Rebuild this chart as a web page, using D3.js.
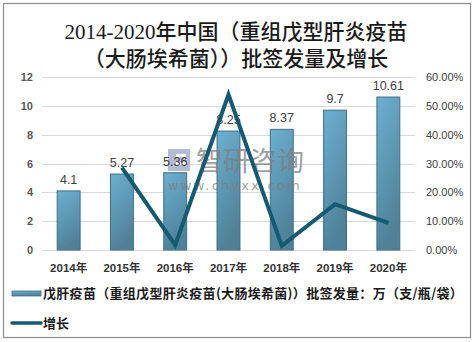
<!DOCTYPE html>
<html><head><meta charset="utf-8">
<script src="https://cdn.jsdelivr.net/npm/d3@7"></script>
<style>
html,body{margin:0;padding:0;background:#fff;}
svg{display:block;}
</style>
</head><body>
<svg id="chart" width="474" height="342"></svg>
<script>
const years = ["2014年","2015年","2016年","2017年","2018年","2019年","2020年"];
const volumes = [4.1, 5.27, 5.36, 8.25, 8.37, 9.7, 10.61];
const growth = [null, 0.2854, 0.0171, 0.5392, 0.0145, 0.1589, 0.0938];
const leftTicks = [0, 2, 4, 6, 8, 10, 12];
const rightTicks = [0, 0.1, 0.2, 0.3, 0.4, 0.5, 0.6];
const titleLines = ["2014-2020年中国（重组戊型肝炎疫苗", "（大肠埃希菌））批签发量及增长"];
const legendLabels = ["戊肝疫苗（重组戊型肝炎疫苗(大肠埃希菌)）批签发量：万（支/瓶/袋）", "增长"];

const svg = d3.select("#chart");
const plot = {l: 42, r: 415, t: 77, b: 250};

svg.append("rect").attr("x", 3.5).attr("y", 3.5).attr("width", 467).attr("height", 334)
  .attr("fill", "#fff").attr("stroke", "#8c8c8c").attr("stroke-width", 1.2);

const defs = svg.append("defs");
const grad = defs.append("linearGradient").attr("id", "barGrad")
  .attr("x1", "0").attr("y1", "0").attr("x2", "0.3").attr("y2", "1");
grad.append("stop").attr("offset", "0").attr("stop-color", "#6bb0d0");
grad.append("stop").attr("offset", "1").attr("stop-color", "#4f8199");

// title
svg.append("g").selectAll("text").data(titleLines).join("text")
  .attr("x", 236).attr("y", (d, i) => 39 + i * 27)
  .attr("text-anchor", "middle")
  .attr("font-family", "'Liberation Serif','Noto Sans CJK SC',serif")
  .attr("font-size", 21).attr("font-weight", 500).attr("fill", "#1a1a1a")
  .text(d => d);

const x = d3.scaleBand().domain(years).range([plot.l, plot.r]).padding(0);
const yL = d3.scaleLinear().domain([0, 12]).range([plot.b, plot.t]);
const yR = d3.scaleLinear().domain([0, 0.6]).range([plot.b, plot.t]);

// grid
svg.append("g").selectAll("line").data(leftTicks).join("line")
  .attr("x1", plot.l).attr("x2", plot.r)
  .attr("y1", d => Math.round(yL(d)) + 0.5).attr("y2", d => Math.round(yL(d)) + 0.5)
  .attr("stroke", "#d9d9d9").attr("stroke-width", 1);

// left axis
const axL = svg.append("g").attr("transform", `translate(${plot.l},0)`)
  .call(d3.axisLeft(yL).tickValues(leftTicks).tickSize(0).tickPadding(9).tickFormat(d3.format("d")));
axL.select(".domain").remove();
axL.selectAll("text").attr("font-family", "'Liberation Sans',Arial,sans-serif")
  .attr("font-size", 11).attr("font-weight", "bold").attr("fill", "#595959");

// right axis
const axR = svg.append("g").attr("transform", `translate(${plot.r},0)`)
  .call(d3.axisRight(yR).tickValues(rightTicks).tickSize(0).tickPadding(11).tickFormat(d3.format(".2%")));
axR.select(".domain").remove();
axR.selectAll("text").attr("font-family", "'Liberation Sans',Arial,sans-serif")
  .attr("font-size", 11).attr("fill", "#404040");

// x axis
const axX = svg.append("g").attr("transform", `translate(0,${plot.b})`)
  .call(d3.axisBottom(x).tickSize(0).tickPadding(14));
axX.select(".domain").remove();
axX.selectAll("text").attr("font-family", "'Liberation Sans','Noto Sans CJK SC',sans-serif")
  .attr("font-size", 11.5).attr("font-weight", "bold").attr("fill", "#333");

// bars
const bw = x.bandwidth() * 0.43;
svg.append("g").selectAll("rect").data(volumes).join("rect")
  .attr("x", (d, i) => x(years[i]) + x.bandwidth() / 2 - bw / 2)
  .attr("y", d => yL(d))
  .attr("width", bw).attr("height", d => plot.b - yL(d))
  .attr("fill", "url(#barGrad)").attr("stroke", "#3f6f86").attr("stroke-width", 1);

// watermark
const wm = svg.append("g").attr("opacity", 0.75);
wm.append("rect").attr("x", 168).attr("y", 149).attr("width", 22).attr("height", 22).attr("fill", "#9aa6c4");
wm.append("rect").attr("x", 176).attr("y", 154).attr("width", 10).attr("height", 3).attr("fill", "#fff");
wm.append("rect").attr("x", 176).attr("y", 162).attr("width", 10).attr("height", 3).attr("fill", "#fff");
wm.append("text").attr("x", 196).attr("y", 171).attr("font-family", "'Noto Sans CJK SC',sans-serif")
  .attr("font-size", 27).attr("fill", "#7f7f7f").text("智研咨询");
wm.append("text").attr("x", 168).attr("y", 190).attr("font-family", "'DejaVu Sans',sans-serif")
  .attr("font-size", 13).attr("letter-spacing", 2.2).attr("fill", "#7f7f7f").text("www.chyxx.com");

// bar labels
svg.append("g").selectAll("text").data(volumes).join("text")
  .attr("x", (d, i) => x(years[i]) + x.bandwidth() / 2)
  .attr("y", d => yL(d) - 7)
  .attr("text-anchor", "middle")
  .attr("font-family", "'Liberation Sans',Arial,sans-serif")
  .attr("font-size", 12.5).attr("fill", "#404040")
  .text(d => d);

// line
const pts = growth.map((g, i) => ({g, yr: years[i]})).filter(d => d.g !== null);
svg.append("path").datum(pts)
  .attr("d", d3.line().x(d => x(d.yr) + x.bandwidth() / 2).y(d => yR(d.g)))
  .attr("fill", "none").attr("stroke", "#145a70").attr("stroke-width", 4)
  .attr("stroke-linejoin", "miter");

// legend
svg.append("rect").attr("x", 12).attr("y", 291).attr("width", 29).attr("height", 5)
  .attr("fill", "url(#barGrad)").attr("stroke", "#3f6f86").attr("stroke-width", 0.8);
svg.append("line").attr("x1", 12).attr("x2", 41).attr("y1", 323).attr("y2", 323)
  .attr("stroke", "#145a70").attr("stroke-width", 3.5).attr("stroke-linecap", "round");
svg.append("g").selectAll("text").data(legendLabels).join("text")
  .attr("x", 43).attr("y", (d, i) => 298 + i * 30)
  .attr("font-family", "'Noto Sans CJK SC',sans-serif")
  .attr("font-size", 13).attr("font-weight", "bold").attr("fill", "#1a1a1a")
  .attr("letter-spacing", (d, i) => i === 0 ? 0.3 : 0)
  .text(d => d);
</script>
</body></html>
